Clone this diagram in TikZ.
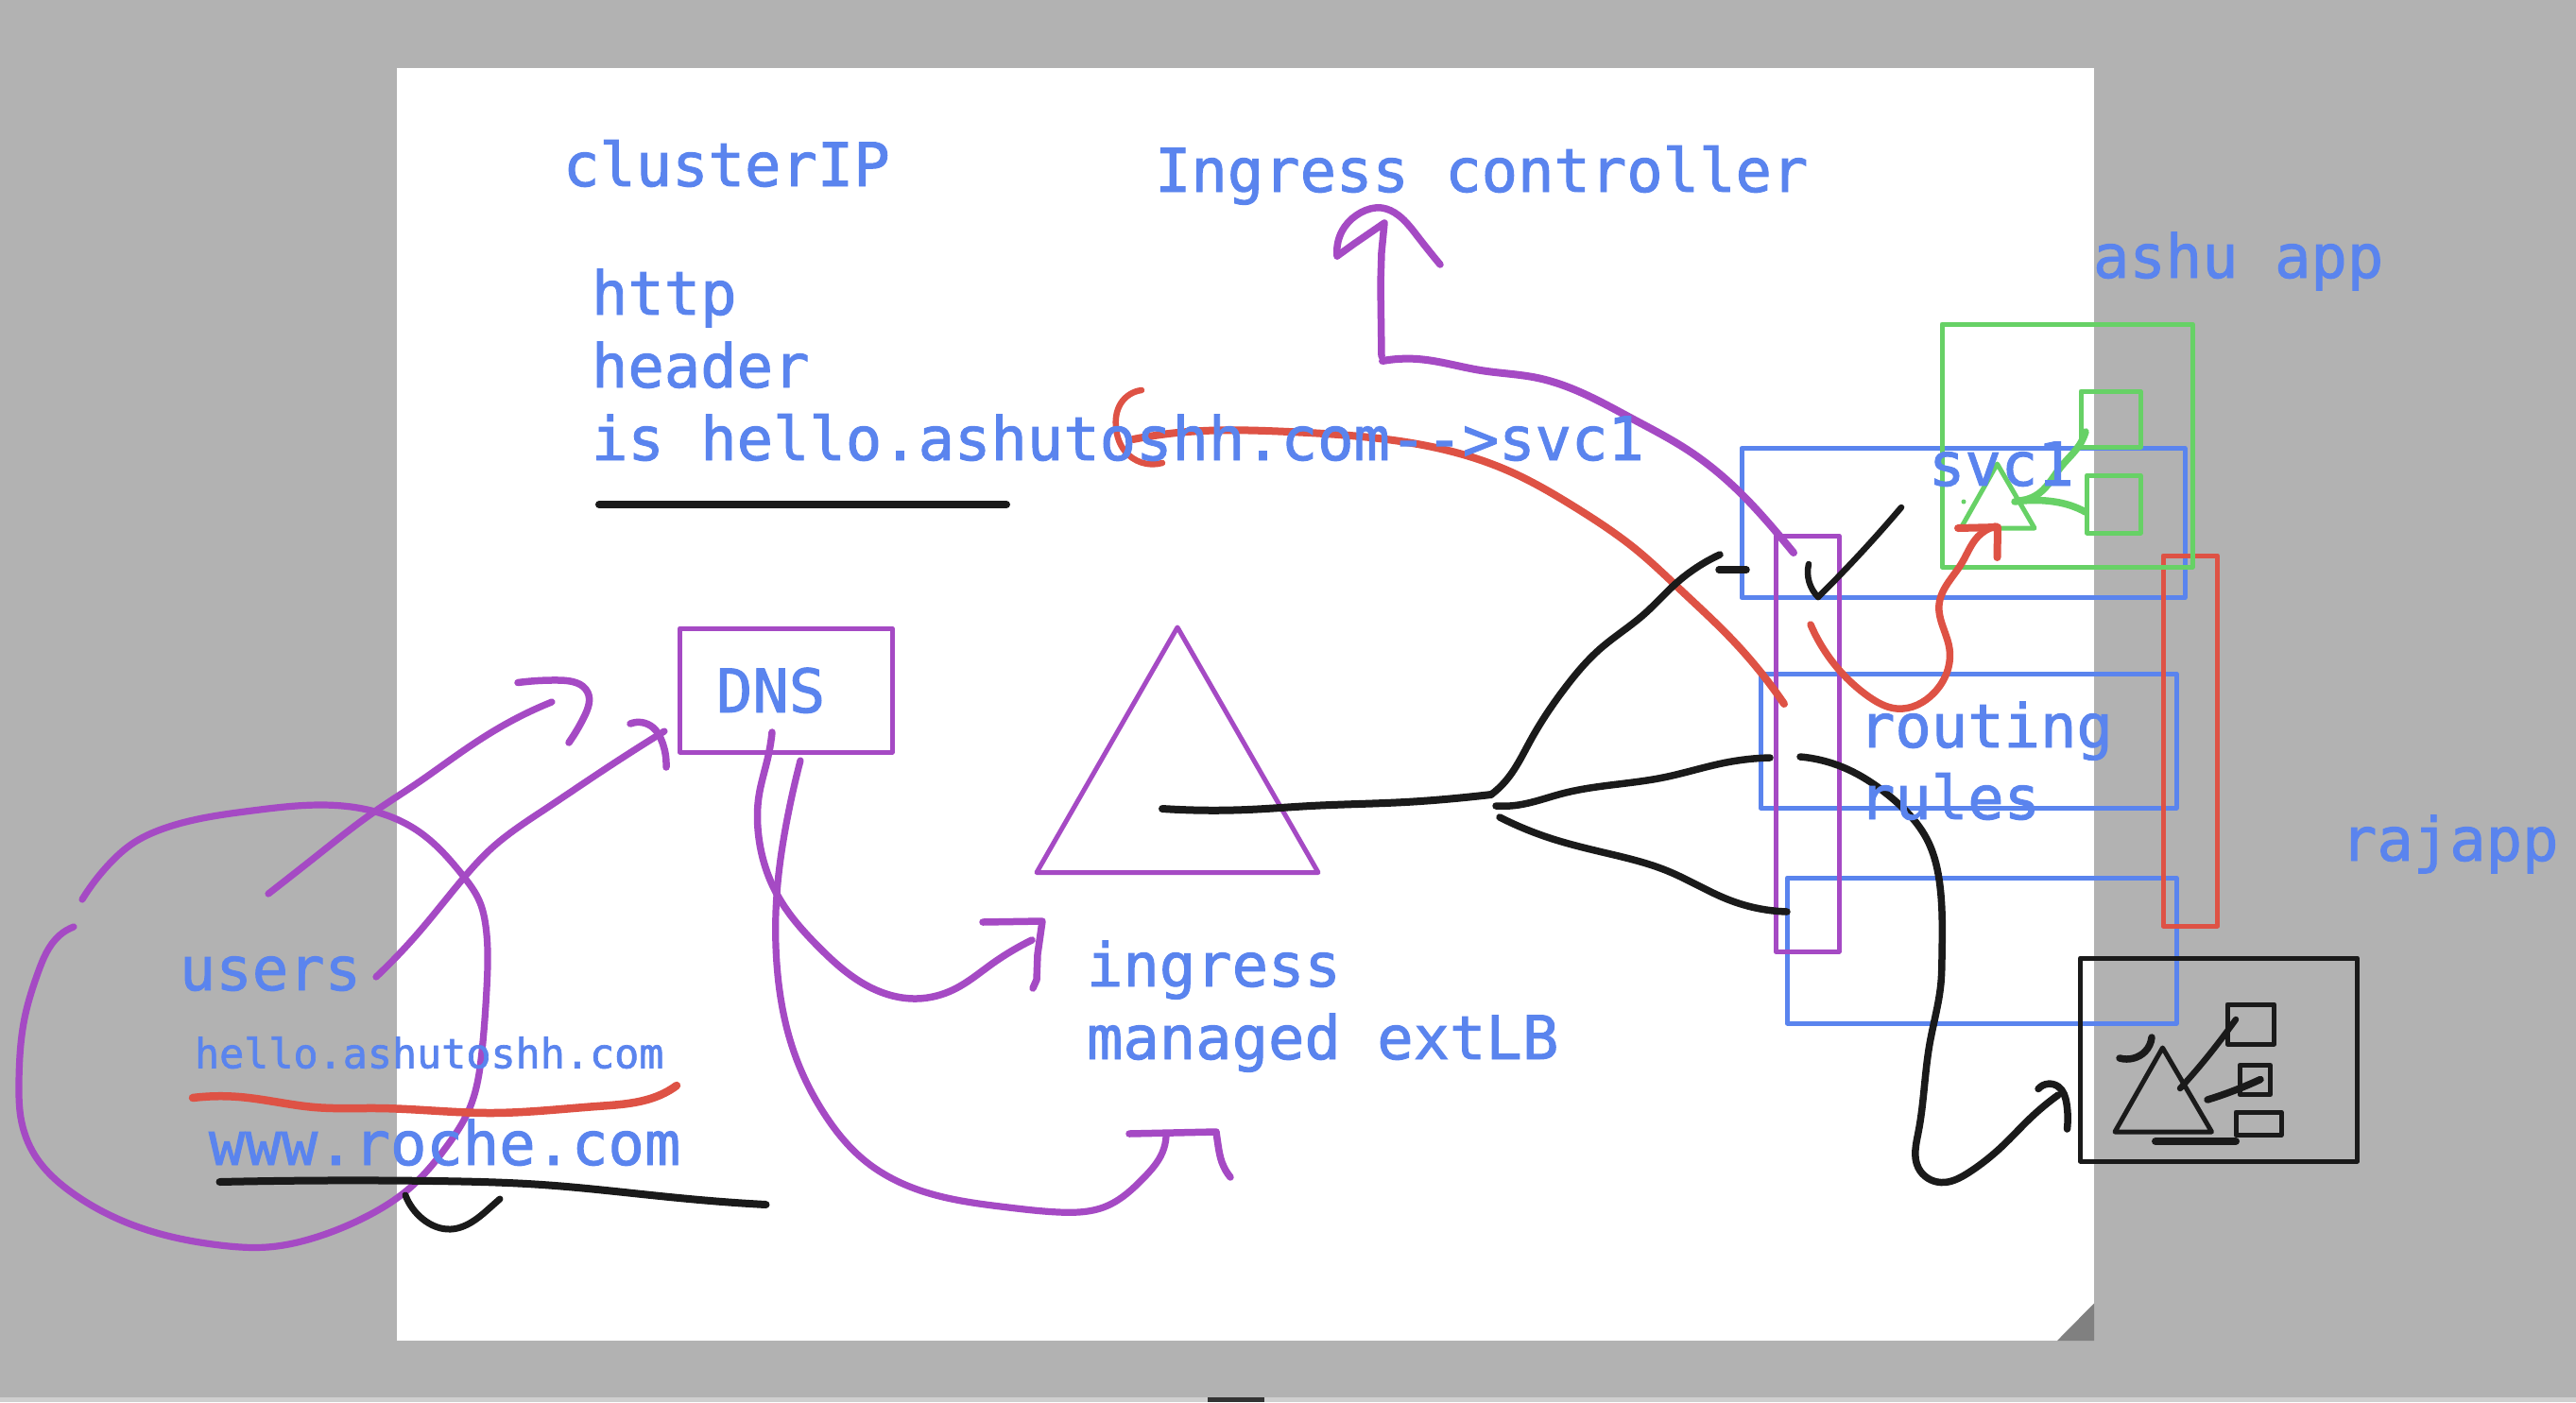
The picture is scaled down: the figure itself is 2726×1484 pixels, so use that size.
\documentclass[tikz,border=0pt]{standalone}
\usepackage{fontspec}
\usetikzlibrary{hobby}
\newfontfamily\handfont[FakeBold=1.5]{DejaVu Sans Mono}
\definecolor{bgGray}{HTML}{B2B2B2}
\definecolor{stripGray}{HTML}{CFCFCF}
\definecolor{foldGray}{HTML}{808080}
\definecolor{barDark}{HTML}{333333}
\definecolor{inkBlue}{HTML}{5A84EE}
\definecolor{inkPurple}{HTML}{A54AC4}
\definecolor{inkRed}{HTML}{DE5245}
\definecolor{inkGreen}{HTML}{67D166}
\definecolor{inkBlack}{HTML}{1A1A1A}
\tikzset{
  pen/.style={line cap=round,line join=round,line width=#1,use Hobby shortcut},
  pen/.default=6pt,
  boxline/.style={line join=round,line width=5pt,draw=#1},
  txt/.style={anchor=base west,inner sep=0pt,outer sep=0pt,text=inkBlue,font=\handfont\fontsize{63.8}{64}\selectfont},
  txtsmall/.style={txt,font=\handfont\fontsize{43.4}{44}\selectfont},
}
\begin{document}
\begin{tikzpicture}[x=1pt,y=-1pt]
\useasboundingbox (0,0) rectangle (2726,1484);
% backdrop
\fill[bgGray] (0,0) rectangle (2726,1484);
\fill[stripGray] (0,1479) rectangle (2726,1484);
\fill[barDark] (1278,1479) rectangle (1338,1484);
\fill[white] (420,71.5) rectangle (2216,1419);
\fill[foldGray] (2177,1419) -- (2216,1379.5) -- (2216,1419) -- cycle;

% boxes
\draw[boxline=inkBlue] (1843,474.5) rectangle (2312,632.5);
\draw[boxline=inkBlue] (1863,713) rectangle (2303,855);
\draw[boxline=inkBlue] (1891.5,929) rectangle (2303,1083);
\draw[boxline=inkPurple] (1879,567) rectangle (1946,1007);
\draw[boxline=inkRed] (2289,588) rectangle (2346.5,980);
\draw[boxline=inkGreen] (2055,343) rectangle (2320,600);
\draw[boxline=inkGreen] (2202,414) rectangle (2265,473);
\draw[boxline=inkGreen] (2208.5,503) rectangle (2265,564);
\draw[boxline=inkGreen] (2113.5,491) -- (2075,559) -- (2153,559) -- cycle;
\fill[inkGreen] (2078,531) circle (2.5);
\draw[boxline=inkPurple] (719.5,665) rectangle (944,796);
\draw[boxline=inkPurple] (1246,664) -- (1097,923.5) -- (1395,923.5) -- cycle;
\draw[boxline=inkBlack] (2201.5,1014) rectangle (2494.5,1229);
\draw[boxline=inkBlack] (2357,1063) rectangle (2406.5,1105);
\draw[boxline=inkBlack] (2370,1127.5) rectangle (2402.5,1158.5);
\draw[boxline=inkBlack] (2366,1177) rectangle (2414,1201.5);
\draw[boxline=inkBlack] (2288.5,1109) -- (2238,1198) -- (2340.5,1198) -- cycle;

% green strokes
\draw[inkGreen,pen=7.5pt] (2207,457) .. (2200.5,471) .. (2181,494) .. (2158,522) .. (2135,530);
\draw[inkGreen,pen=7.5pt] (2132,531) .. (2165,530) .. (2191,535) .. (2207,542);

% purple strokes
\draw[inkPurple,pen=7.2pt] (78,981) .. (63,990) .. (40,1030) .. (27,1073) .. (20,1147) .. (22,1183) .. (37,1223) .. (77,1263) .. (150,1300) .. (233,1318) .. (283,1320) .. (333,1310) .. (383,1290) .. (433,1258) .. (473,1213) .. (497,1173) .. (510,1113) .. (515,1047) .. (514,980) .. (507,953) .. (490,927) .. (443,880) .. (393,858) .. (340,852) .. (267,858) .. (173,877) .. (140,893) .. (117,913) .. (87,952);
\draw[inkPurple,pen=7.2pt] (284,946) .. (340,902) .. (395,860) .. (440,830) .. (500,788) .. (546,760.5) .. (584,743);
\draw[inkPurple,pen=7.5pt] (548,722.5) .. (592,720) .. (622,733) .. (618.5,758) .. (602,786);
\draw[inkPurple,pen=7.2pt] (398,1034) .. (443,987) .. (490,930) .. (520,898) .. (576,857) .. (638,815.5) .. (703,774);
\draw[inkPurple,pen=7.5pt] (667,766) .. (691,770) .. (700,783.5) .. (705,812);
\draw[inkPurple,pen=7.5pt] (817,775) .. (813,800) .. (803,843) .. (802,877) .. (823,948) .. (867,1003) .. (917,1043) .. (970,1057) .. (1010,1047) .. (1050,1020) .. (1092,995);
\draw[inkPurple,pen=7.5pt] (1040,976) -- (1103,975) -- (1098,1010) -- (1097,1037) -- (1093,1046);
\draw[inkPurple,pen=7.2pt] (847,805) .. (833,867) .. (822,947) .. (822,1020) .. (840,1113) .. (873,1180) .. (917,1230) .. (983,1263) .. (1067,1278) .. (1120,1283) .. (1170,1277) .. (1210,1247) .. (1230,1220) .. (1234,1203);
\draw[inkPurple,pen=7.5pt] (1195,1200) -- (1287,1198) .. (1289,1212) .. (1293,1230) .. (1302,1246);
\draw[inkPurple,pen=7.5pt] (1524,280) .. (1500,250) .. (1480,228) .. (1462,220) .. (1440,225) .. (1423,240) .. (1415,271);
\draw[inkPurple,pen=7.5pt] (1415,271) -- (1433,258) -- (1465,236) -- (1462,267) -- (1461,300) -- (1462,377);
\draw[inkPurple,pen=8pt] (1463,382) .. (1500,380) .. (1567,392) .. (1627,400) .. (1683,420) .. (1727,443) .. (1787,477) .. (1840,520) .. (1883,567) .. (1898,585);

% red strokes
\draw[inkRed,pen=6.5pt] (1208,413) .. (1186,427) .. (1181,453) .. (1190,477) .. (1230,490);
\draw[inkRed,pen=8pt] (1199,465) .. (1257,457) .. (1364,457) .. (1467,465) .. (1533,477) .. (1600,500) .. (1667,537) .. (1733,583) .. (1777,623) .. (1833,677) .. (1888,745);
\draw[inkRed,pen=7.5pt] (1916,661) .. (1947,710) .. (1977,737) .. (2007,750) .. (2047,733) .. (2063,687) .. (2052,640) .. (2076,596) .. (2093,568) .. (2112,557);
\draw[inkRed,pen=8pt] (2072,559) -- (2114,558) -- (2113.5,590);
\draw[inkRed,pen=8.5pt] (204,1162) .. (253,1161) .. (333,1172) .. (400,1173) .. (520,1178) .. (631.5,1171) .. (703,1157) .. (716,1149);

% black strokes
\draw[inkBlack,pen=8pt] (634,534) -- (1065,534);
\draw[inkBlack,pen=8pt] (232.5,1251) .. (459,1250) .. (574,1254) .. (689,1265) .. (758,1271.5) .. (810.5,1275);
\draw[inkBlack,pen=7pt] (429,1265) .. (447,1290) .. (477,1301) .. (500,1293) .. (520,1277) .. (529,1269);
\draw[inkBlack,pen=8pt] (1230,856) .. (1320,857) .. (1387,853) .. (1487,849) .. (1560,843) .. (1578,841);
\draw[inkBlack,pen=7.5pt] (1578,841) .. (1593,827) .. (1620,783) .. (1657,727) .. (1693,687) .. (1740,650) .. (1773,618) .. (1820,587);
\draw[inkBlack,pen=7.5pt] (1819,603) -- (1848,603);
\draw[inkBlack,pen=6.5pt] (1914,597) .. (1914.5,616) .. (1924,632);
\draw[inkBlack,pen=6.5pt] (1924,632) .. (1962,593) .. (2012,537);
\draw[inkBlack,pen=7.5pt] (1583,853) .. (1607,852) .. (1653,840) .. (1760,823) .. (1827,807) .. (1873,802);
\draw[inkBlack,pen=7.5pt] (1587,865) .. (1640,887) .. (1700,903) .. (1765,922) .. (1831,953) .. (1891,965);
\draw[inkBlack,pen=7.5pt] (1905,801) .. (1950,812) .. (2000,843) .. (2040,890) .. (2053,938) .. (2055,1014) .. (2054,1040) .. (2042,1105) .. (2030,1198.5) .. (2030,1236) .. (2054,1251.5) .. (2083.5,1241) .. (2119,1213) .. (2148.5,1183.5) .. (2178,1159);
\draw[inkBlack,pen=7.5pt] (2157,1152.5) .. (2178,1150) .. (2187,1168.5) .. (2187.5,1195);
\draw[inkBlack,pen=8pt] (2281,1208) -- (2366,1208);
\draw[inkBlack,pen=7.5pt] (2243,1120) .. (2258,1120) .. (2270,1113) .. (2277,1098);
\draw[inkBlack,pen=6.5pt] (2307,1152) .. (2331.5,1124) .. (2355,1094) .. (2366,1079);
\draw[inkBlack,pen=7.5pt] (2336,1164) .. (2361,1155.5) .. (2392,1142.5);

% texts
\node[txt] (tcluster) at (596,197) {clusterIP};
\node[txt] (tingress) at (1222,203) {Ingress controller};
\node[txt] (thttp) at (626,333) {http};
\node[txt] (theader) at (626,410) {header};
\node[txt] (this) at (626,487) {is hello.ashutoshh.com-->svc1};
\node[txt] (tashu) at (2215,294) {ashu app};
\node[txt] (tsvc) at (2041,514) {svc1};
\node[txt] (trouting) at (1967,791) {routing};
\node[txt] (trules) at (1967,867) {rules};
\node[txt] (trajapp) at (2477,911) {rajapp};
\node[txt] (tdns) at (758,754) {DNS};
\node[txt] (tingr) at (1150,1044) {ingress};
\node[txt] (tmanaged) at (1150,1121) {managed extLB};
\node[txt] (tusers) at (190,1048) {users};
\node[txtsmall] (thello) at (206,1130.5) {hello.ashutoshh.com};
\node[txt] (troche) at (221,1233) {www.roche.com};
\end{tikzpicture}
\end{document}
